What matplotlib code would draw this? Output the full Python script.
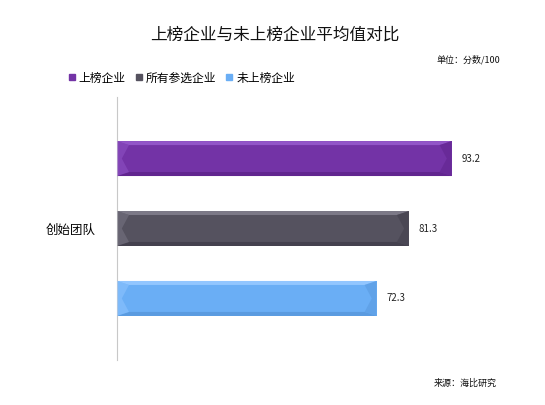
import numpy as np
import matplotlib.pyplot as plt
from matplotlib.patches import Polygon
from matplotlib.lines import Line2D

plt.rcParams['font.family'] = ['Noto Sans CJK SC', 'DejaVu Sans']

# data
category = "创始团队"
series = ["上榜企业", "所有参选企业", "未上榜企业"]
values = [93.2, 81.3, 72.3]
colors = ["#7333a6", "#55525f", "#6aaef5"]
light = ["#9255c8", "#7c7987", "#92c6ff"]
dark = ["#61258f", "#44414e", "#5a9be0"]

fig = plt.figure(figsize=(5.45, 4.05), dpi=100)
ax = fig.add_axes([117/545, 45/405, 359/545, 263/405])

pos = np.arange(len(values))
h = 0.5
ax.barh(pos, values, height=h, color=colors, edgecolor="none", zorder=2)

# bevel look: shaded edges built from bar geometry
px = 100/359.0          # data units per pixel in x
py = 3.76/263.0         # data units per pixel in y
bx = 12*px
by = 4*py
for i, v in enumerate(values):
    y0, y1 = pos[i]-h/2, pos[i]+h/2   # y0 is the top (axis inverted)
    top = Polygon([(0, y0), (v, y0), (v-bx, y0+by), (bx, y0+by)], closed=True,
                  facecolor=light[i], edgecolor="none", zorder=3)
    bot = Polygon([(0, y1), (v, y1), (v-bx, y1-by), (bx, y1-by)], closed=True,
                  facecolor=dark[i], edgecolor="none", zorder=3)
    lft = Polygon([(0, y0), (bx, y0+by), (bx*0.4, pos[i]), (bx, y1-by), (0, y1)], closed=True,
                  facecolor=light[i], edgecolor="none", alpha=0.5, zorder=3)
    rgt = Polygon([(v, y0), (v-bx, y0+by), (v-bx*0.4, pos[i]), (v-bx, y1-by), (v, y1)], closed=True,
                  facecolor=dark[i], edgecolor="none", alpha=0.6, zorder=3)
    for p in (top, bot, lft, rgt):
        ax.add_patch(p)
    ax.text(v + 10*px, pos[i], f"{v}", va="center", ha="left", fontsize=7, color="#222222")

ax.set_xlim(0, 100)
ax.set_ylim(2.88, -0.88)
ax.set_xticks([])
ax.set_yticks([1])
ax.set_yticklabels([category], fontsize=9)
ax.tick_params(axis="y", length=0, pad=15)
for s in ["top", "right", "bottom"]:
    ax.spines[s].set_visible(False)
ax.spines["left"].set_color("#c8c8c8")
ax.spines["left"].set_linewidth(0.8)

fig.text(275/545, 1-35/405, "上榜企业与未上榜企业平均值对比", ha="center", va="center",
         fontsize=12, color="#111111")
fig.text(500/545, 1-60/405, "单位：分数/100", ha="right", va="center", fontsize=6.5, color="#111111")
fig.text(497/545, 1-383/405, "来源：海比研究", ha="right", va="center", fontsize=6.5, color="#111111")

handles = [Line2D([], [], linestyle="none", marker="s", markersize=5,
                  markerfacecolor=c, markeredgecolor=c) for c in colors]
fig.legend(handles, series, loc="center left", bbox_to_anchor=(68/545, 1-78/405), ncol=3,
           frameon=False, fontsize=8.5, handlelength=0.6, handletextpad=0.3,
           columnspacing=0.8, borderaxespad=0, borderpad=0)

fig.savefig("out.png", dpi=100)
